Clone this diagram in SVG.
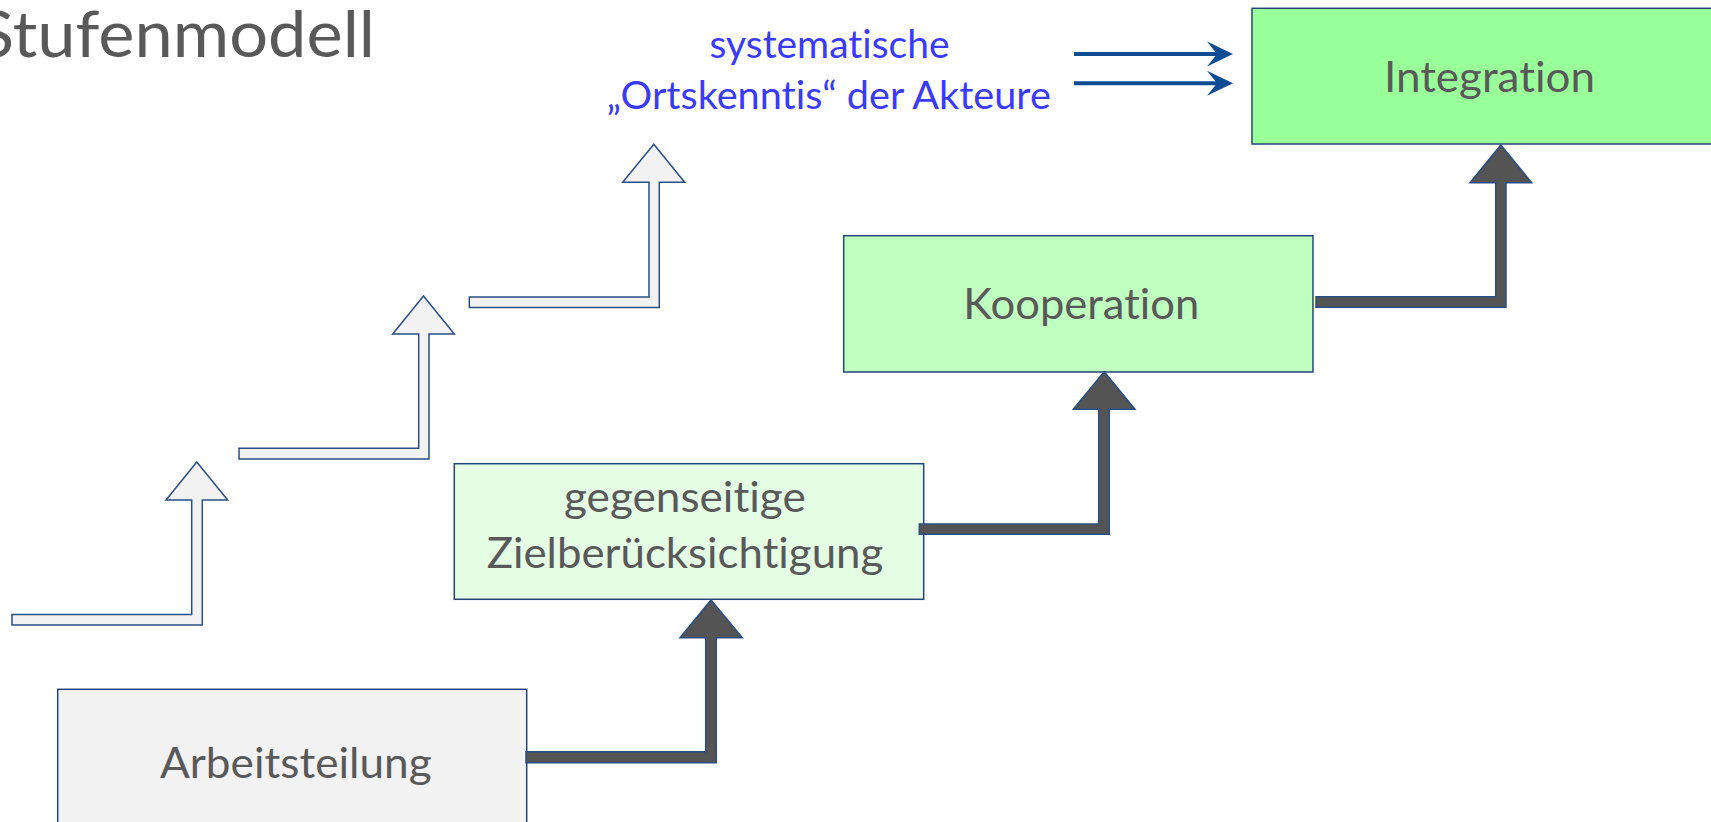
<svg xmlns="http://www.w3.org/2000/svg" width="1711" height="822" viewBox="0 0 1711 822">
  <defs>
    <style>
      text { font-variant-ligatures: none; font-feature-settings: "liga" 0, "clig" 0; }
      .box { stroke: #24457a; stroke-width: 1.5; }
      .lbl { font-family: Lato, "Open Sans", "Liberation Sans", sans-serif; font-size: 42px; fill: #595959; }
      .blue { font-family: Lato, "Open Sans", "Liberation Sans", sans-serif; font-size: 38px; fill: #3a3aff; }
      .title { font-family: Lato, "Open Sans", "Liberation Sans", sans-serif; font-weight: 400; font-size: 64px; fill: #595959; }
      .step-light { fill: #f2f2f2; stroke: #2a4f85; stroke-width: 1.5; stroke-linejoin: miter; }
      .step-dark { fill: #545454; stroke: #2a4f85; stroke-width: 1.5; stroke-linejoin: miter; }
      .hint { stroke: #104c94; stroke-width: 4; fill: none; }
      .hint-head { fill: #104c94; }
    </style>
  </defs>

  <rect width="1711" height="822" fill="#ffffff"/>

  <!-- title -->
  <text class="title" x="-23" y="57" textLength="398" lengthAdjust="spacingAndGlyphs">Stufenmodell</text>

  <!-- light (empty) staircase steps -->
  <g id="stairs-light">
    <polygon class="step-light" points="12,614.5 191.7,614.5 191.7,500 166,500 196.8,462 227.7,500 202.3,500 202.3,625 12,625"/>
    <polygon class="step-light" points="239,448.3 418.7,448.3 418.7,334 392.7,334 423.5,296 454.3,334 429,334 429,459 239,459"/>
    <polygon class="step-light" points="469.3,297 649,297 649,182.3 622.7,182.3 653.8,144.3 684.7,182.3 659.3,182.3 659.3,307.5 469.3,307.5"/>
  </g>

  <!-- blue note -->
  <g id="note">
    <text class="blue" x="709.5" y="58.3" textLength="240" lengthAdjust="spacingAndGlyphs">systematische</text>
    <text class="blue" x="606.8" y="109" textLength="444" lengthAdjust="spacingAndGlyphs">„Ortskenntis“ der Akteure</text>
  </g>

  <!-- nodes -->
  <g id="node-arbeitsteilung">
    <rect class="box" x="57.7" y="689.3" width="469" height="150" fill="#f2f2f2"/>
    <text class="lbl" x="160" y="777.7" textLength="271.7" lengthAdjust="spacingAndGlyphs">Arbeitsteilung</text>
  </g>

  <g id="node-zielberuecksichtigung">
    <rect class="box" x="454.3" y="463.7" width="469.4" height="135.6" fill="#e4fde4"/>
    <text class="lbl" x="564" y="511.7" textLength="241.7" lengthAdjust="spacingAndGlyphs">gegenseitige</text>
    <text class="lbl" x="486.7" y="568.3" textLength="396.6" lengthAdjust="spacingAndGlyphs">Zielberücksichtigung</text>
  </g>

  <g id="node-kooperation">
    <rect class="box" x="843.7" y="235.7" width="469.3" height="136.3" fill="#bfffbf"/>
    <text class="lbl" x="963.3" y="319.3" textLength="236" lengthAdjust="spacingAndGlyphs">Kooperation</text>
  </g>

  <g id="node-integration">
    <rect class="box" x="1252" y="8.3" width="480" height="135.7" fill="#99ff99"/>
    <text class="lbl" x="1384" y="91.7" textLength="211" lengthAdjust="spacingAndGlyphs">Integration</text>
  </g>

  <!-- connectors -->
  <g id="connectors">
    <polygon class="step-dark" points="526,751.7 705.7,751.7 705.7,637.7 680,637.7 711,600 742.3,637.7 716.3,637.7 716.3,762.7 526,762.7"/>
    <polygon class="step-dark" points="919.3,524 1098.7,524 1098.7,409.3 1073.3,409.3 1104.2,371.7 1135,409.3 1109.3,409.3 1109.3,534.3 919.3,534.3"/>
    <polygon class="step-dark" points="1316,296.7 1495.7,296.7 1495.7,182.7 1470,182.7 1500.8,145 1531.7,182.7 1506,182.7 1506,307.3 1316,307.3"/>

    <line class="hint" x1="1074" y1="54" x2="1218" y2="54"/>
    <polygon class="hint-head" points="1233,54 1207,41.5 1217,54 1207,66.5"/>
    <line class="hint" x1="1074" y1="83.3" x2="1218" y2="83.3"/>
    <polygon class="hint-head" points="1233,83.3 1207,70.8 1217,83.3 1207,95.8"/>
  </g>
</svg>
